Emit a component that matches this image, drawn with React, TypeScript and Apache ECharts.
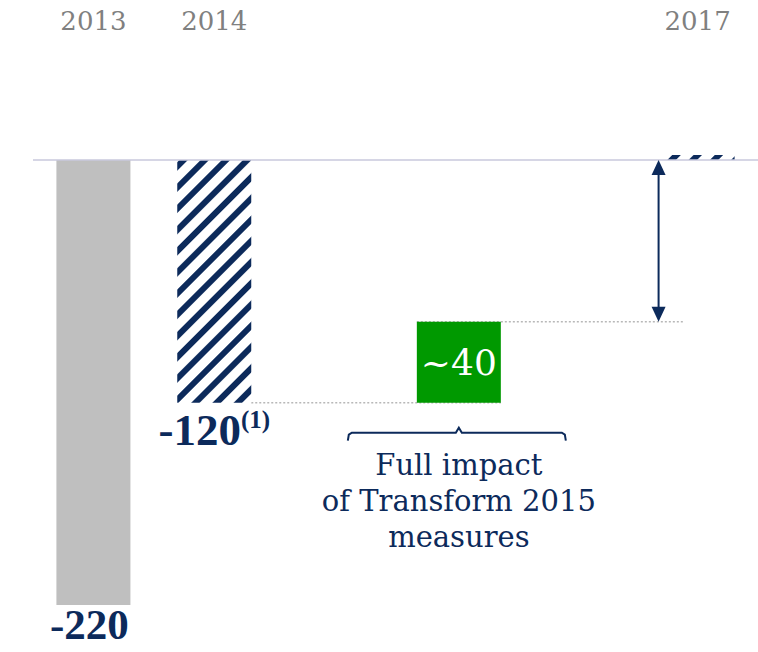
import React, { useEffect, useRef } from 'react';
import * as echarts from 'echarts';

const categories = ['2013', '2014', '', '', '', '2017'];
const grayValues = [-220, null, null, null, null, null];
const hatchedValues = [null, -120, null, null, null, 2.5];
const stepBase = [null, null, null, -80, null, null];
const stepValues = [null, null, null, -40, null, null];
const barLabels = ['-220', '-120', '', '~40', '', ''];
const footnote = '(1)';
const noteLines = ['Full impact', 'of Transform 2015', 'measures'];

const NAVY = '#0c2a5b';
const FONT = '"Liberation Serif", serif';
const FONT_R = '"DejaVu Serif", serif';

export default function App() {
  const ref = useRef<HTMLDivElement>(null);
  useEffect(() => {
    const chart = echarts.init(ref.current!, null, { renderer: 'svg' });
    const gridBox = { top: 38.6, width: 732, height: 606.8 };
    const yAx = { type: 'value', min: -240, max: 60, show: false, splitLine: { show: false } };
    const option: any = {
      animation: false,
      textStyle: { fontFamily: FONT },
      grid: [
        { left: 33, ...gridBox },
        { left: 40, ...gridBox },
      ],
      xAxis: [
        {
          type: 'category',
          position: 'top',
          gridIndex: 0,
          data: categories,
          axisLine: { show: false },
          axisTick: { show: false },
          axisLabel: { color: '#808080', fontSize: 26, fontFamily: FONT_R, margin: 5, interval: 0 },
        },
        { type: 'category', gridIndex: 1, data: categories, show: false },
      ],
      yAxis: [
        { ...yAx, gridIndex: 0 },
        { ...yAx, gridIndex: 1 },
      ],
      series: [
        {
          type: 'bar',
          stack: 'w',
          barWidth: 74,
          data: grayValues,
          itemStyle: { color: '#bfbfbf' },
          label: {
            show: true,
            position: 'bottom',
            distance: 3,
            offset: [-4, 0],
            formatter: (p: any) => barLabels[p.dataIndex],
            color: NAVY,
            fontSize: 43,
            lineHeight: 34,
            fontWeight: 'bold',
            fontFamily: FONT,
          },
          markLine: {
            silent: true,
            symbol: ['none', 'none'],
            label: { show: false },
            lineStyle: { color: '#c8c8dc', width: 1.5, type: 'solid' },
            data: [{ yAxis: 0 }],
          },
        },
        {
          type: 'bar',
          stack: 'w',
          barWidth: 74,
          data: hatchedValues,
          itemStyle: {
            color: '#ffffff',
            decal: {
              symbol: 'rect',
              symbolSize: 1,
              color: NAVY,
              backgroundColor: '#ffffff',
              dashArrayX: [1, 0],
              dashArrayY: [6, 9],
              rotation: -Math.PI / 4,
            },
          },
          label: {
            show: true,
            position: 'bottom',
            distance: 4,
            formatter: (p: any) => (barLabels[p.dataIndex] ? `{v|${barLabels[p.dataIndex]}}{s|${footnote}}` : ''),
            rich: {
              v: { color: NAVY, fontSize: 45, fontWeight: 'bold', fontFamily: FONT, lineHeight: 46 },
              s: { color: NAVY, fontSize: 25, fontWeight: 'bold', fontFamily: FONT, verticalAlign: 'top', lineHeight: 26 },
            },
          },
        },
        {
          type: 'bar',
          stack: 'g',
          xAxisIndex: 1,
          yAxisIndex: 1,
          barWidth: 84,
          data: stepBase,
          itemStyle: { color: 'rgba(0,0,0,0)' },
          silent: true,
        },
        {
          type: 'bar',
          stack: 'g',
          xAxisIndex: 1,
          yAxisIndex: 1,
          barWidth: 84,
          data: stepValues,
          itemStyle: { color: '#009900' },
          label: {
            show: true,
            position: 'inside',
            formatter: (p: any) => barLabels[p.dataIndex],
            color: '#ffffff',
            fontSize: 36,
            fontFamily: FONT_R,
          },
        },
      ],
    };
    chart.setOption(option);

    const px = (i: number, v: number) => chart.convertToPixel({ xAxisIndex: 0, yAxisIndex: 0 }, [i, v]) as number[];
    const pg = (i: number, v: number) => chart.convertToPixel({ xAxisIndex: 1, yAxisIndex: 1 }, [i, v]) as number[];
    const [x14, y120] = px(1, -120);
    const [xg, y80] = pg(3, -80);
    const [x17, y0] = px(5, 0);
    const dot = { stroke: '#b8b8b8', lineWidth: 1.5, lineDash: [2, 2] };
    const ax = x17 - 39;
    const by = y120 + 29;
    const bl = xg - 111;
    const br = xg + 107;
    chart.setOption({
      graphic: [
        { type: 'line', z: 1, shape: { x1: x14 + 37, y1: y120, x2: xg + 42, y2: y120 }, style: dot },
        { type: 'line', z: 1, shape: { x1: xg - 42, y1: y80, x2: x17 - 14, y2: y80 }, style: dot },
        { type: 'line', z: 5, shape: { x1: ax, y1: y0 + 12, x2: ax, y2: y80 - 12 }, style: { stroke: NAVY, lineWidth: 2 } },
        { type: 'polygon', z: 5, shape: { points: [[ax, y0], [ax - 7, y0 + 15], [ax + 7, y0 + 15]] }, style: { fill: NAVY } },
        { type: 'polygon', z: 5, shape: { points: [[ax, y80], [ax - 7, y80 - 15], [ax + 7, y80 - 15]] }, style: { fill: NAVY } },
        {
          type: 'polyline',
          z: 5,
          shape: {
            points: [
              [bl, by + 9], [bl + 1, by + 3], [bl + 4, by + 1], [xg - 3, by + 1], [xg, by - 4],
              [xg + 3, by + 1], [br - 4, by + 1], [br - 1, by + 3], [br, by + 9],
            ],
          },
          style: { stroke: NAVY, lineWidth: 2, fill: 'none' },
        },
        {
          type: 'text',
          z: 5,
          x: xg,
          y: y120 + 44,
          style: {
            text: noteLines.join('\n'),
            fill: NAVY,
            fontSize: 29,
            fontFamily: FONT_R,
            lineHeight: 36,
            align: 'center',
            verticalAlign: 'top',
          },
        },
      ],
    });
    return () => chart.dispose();
  }, []);
  return <div ref={ref} style={{ position: 'absolute', left: 0, top: 0, width: 758, height: 652 }} />;
}
